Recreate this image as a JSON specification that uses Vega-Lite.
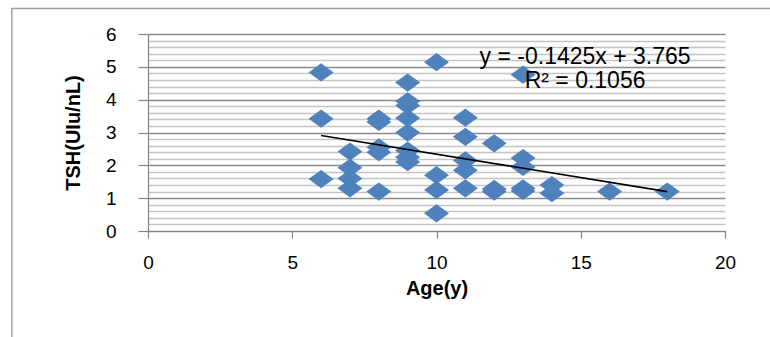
{
  "$schema": "https://vega.github.io/schema/vega-lite/v6.json",
  "width": 577,
  "height": 197,
  "autosize": {"type": "none"},
  "padding": {"left": 148, "top": 34, "right": 45, "bottom": 106},
  "background": "white",
  "config": {
    "view": {"stroke": null},
    "font": "Liberation Sans",
    "axisX": {
      "grid": false,
      "domainColor": "#868686",
      "domainWidth": 1.2,
      "tickColor": "#868686",
      "tickWidth": 1.2,
      "tickSize": 7,
      "labelFontSize": 19,
      "labelColor": "black",
      "labelPadding": 15,
      "labelFlush": false,
      "labelOverlap": false,
      "titleFontSize": 20,
      "titleFontWeight": "bold",
      "titleColor": "black",
      "titlePadding": 6
    },
    "axisY": {
      "grid": true,
      "gridWidth": 1.3,
      "domainColor": "#868686",
      "domainWidth": 1.2,
      "tickColor": "#868686",
      "tickWidth": 1.2,
      "tickSize": 10,
      "labelFontSize": 19,
      "labelColor": "black",
      "labelPadding": 22,
      "labelOverlap": false,
      "labelBound": false,
      "labelFlush": false,
      "titleFontSize": 20,
      "titleFontWeight": "bold",
      "titleColor": "black",
      "titlePadding": 22
    }
  },
  "datasets": {
    "points": [
      {"age": 6, "tsh": 4.83}, {"age": 6, "tsh": 3.42}, {"age": 6, "tsh": 1.58},
      {"age": 7, "tsh": 2.42}, {"age": 7, "tsh": 1.93}, {"age": 7, "tsh": 1.6}, {"age": 7, "tsh": 1.3},
      {"age": 8, "tsh": 3.42}, {"age": 8, "tsh": 3.32}, {"age": 8, "tsh": 2.55}, {"age": 8, "tsh": 2.4}, {"age": 8, "tsh": 1.2},
      {"age": 9, "tsh": 4.52}, {"age": 9, "tsh": 3.95}, {"age": 9, "tsh": 3.82}, {"age": 9, "tsh": 3.44}, {"age": 9, "tsh": 3.0}, {"age": 9, "tsh": 2.45}, {"age": 9, "tsh": 2.25}, {"age": 9, "tsh": 2.1},
      {"age": 10, "tsh": 5.14}, {"age": 10, "tsh": 1.7}, {"age": 10, "tsh": 1.25}, {"age": 10, "tsh": 0.54},
      {"age": 11, "tsh": 3.45}, {"age": 11, "tsh": 2.87}, {"age": 11, "tsh": 2.15}, {"age": 11, "tsh": 1.85}, {"age": 11, "tsh": 1.3},
      {"age": 12, "tsh": 2.67}, {"age": 12, "tsh": 1.28}, {"age": 12, "tsh": 1.2},
      {"age": 13, "tsh": 4.76}, {"age": 13, "tsh": 2.22}, {"age": 13, "tsh": 1.95}, {"age": 13, "tsh": 1.3}, {"age": 13, "tsh": 1.22},
      {"age": 14, "tsh": 1.4}, {"age": 14, "tsh": 1.15},
      {"age": 16, "tsh": 1.2},
      {"age": 18, "tsh": 1.2}
    ],
    "trend": [
      {"age": 6, "tsh": 2.91},
      {"age": 18, "tsh": 1.2}
    ],
    "equation": [
      {"lines": ["y = -0.1425x + 3.765", "R² = 0.1056"]}
    ]
  },
  "layer": [
    {
      "data": {"name": "points"},
      "mark": {"type": "point", "shape": "M-1,0L0,-0.73L1,0L0,0.73Z", "filled": true, "size": 625, "color": "#4F81BD", "opacity": 1, "strokeWidth": 0},
      "encoding": {
        "x": {
          "field": "age", "type": "quantitative",
          "scale": {"domain": [0, 20], "nice": false, "zero": false},
          "axis": {"title": "Age(y)", "values": [0, 5, 10, 15, 20]}
        },
        "y": {
          "field": "tsh", "type": "quantitative",
          "scale": {"domain": [0, 6], "nice": false},
          "axis": {
            "title": "TSH(UIu/nL)",
            "values": [0, 0.2, 0.4, 0.6, 0.8, 1, 1.2, 1.4, 1.6, 1.8, 2, 2.2, 2.4, 2.6, 2.8, 3, 3.2, 3.4, 3.6, 3.8, 4, 4.2, 4.4, 4.6, 4.8, 5, 5.2, 5.4, 5.6, 5.8, 6],
            "labelExpr": "datum.value % 1 === 0 ? '' + datum.value : ''",
            "gridColor": {"condition": {"test": "datum.value % 1 === 0", "value": "#8a8a8a"}, "value": "#c4c4c4"},
            "tickOpacity": {"condition": {"test": "datum.value % 1 === 0", "value": 1}, "value": 0}
          }
        }
      }
    },
    {
      "data": {"name": "trend"},
      "mark": {"type": "line", "color": "black", "strokeWidth": 1.6},
      "encoding": {
        "x": {
          "field": "age", "type": "quantitative",
          "scale": {"domain": [0, 20], "nice": false, "zero": false},
          "axis": {"title": "Age(y)", "values": [0, 5, 10, 15, 20]}
        },
        "y": {
          "field": "tsh", "type": "quantitative",
          "scale": {"domain": [0, 6], "nice": false},
          "axis": {
            "title": "TSH(UIu/nL)",
            "values": [0, 0.2, 0.4, 0.6, 0.8, 1, 1.2, 1.4, 1.6, 1.8, 2, 2.2, 2.4, 2.6, 2.8, 3, 3.2, 3.4, 3.6, 3.8, 4, 4.2, 4.4, 4.6, 4.8, 5, 5.2, 5.4, 5.6, 5.8, 6],
            "labelExpr": "datum.value % 1 === 0 ? '' + datum.value : ''",
            "gridColor": {"condition": {"test": "datum.value % 1 === 0", "value": "#8a8a8a"}, "value": "#c4c4c4"},
            "tickOpacity": {"condition": {"test": "datum.value % 1 === 0", "value": 1}, "value": 0}
          }
        }
      }
    },
    {
      "data": {"name": "equation"},
      "mark": {"type": "text", "align": "center", "baseline": "alphabetic", "fontSize": 23, "lineHeight": 24, "color": "black"},
      "encoding": {
        "x": {
          "datum": 15.15, "type": "quantitative",
          "scale": {"domain": [0, 20], "nice": false, "zero": false},
          "axis": {"title": "Age(y)", "values": [0, 5, 10, 15, 20]}
        },
        "y": {
          "datum": 5.08, "type": "quantitative",
          "scale": {"domain": [0, 6], "nice": false},
          "axis": {
            "title": "TSH(UIu/nL)",
            "values": [0, 0.2, 0.4, 0.6, 0.8, 1, 1.2, 1.4, 1.6, 1.8, 2, 2.2, 2.4, 2.6, 2.8, 3, 3.2, 3.4, 3.6, 3.8, 4, 4.2, 4.4, 4.6, 4.8, 5, 5.2, 5.4, 5.6, 5.8, 6],
            "labelExpr": "datum.value % 1 === 0 ? '' + datum.value : ''",
            "gridColor": {"condition": {"test": "datum.value % 1 === 0", "value": "#8a8a8a"}, "value": "#c4c4c4"},
            "tickOpacity": {"condition": {"test": "datum.value % 1 === 0", "value": 1}, "value": 0}
          }
        },
        "text": {"field": "lines"}
      }
    },
    {
      "data": {"values": [{}]},
      "mark": {"type": "rect", "filled": false, "fillOpacity": 0, "stroke": "#a0a0a0", "strokeWidth": 1.5},
      "encoding": {
        "x": {
          "datum": -4.72, "type": "quantitative",
          "scale": {"domain": [0, 20], "nice": false, "zero": false},
          "axis": {"title": "Age(y)", "values": [0, 5, 10, 15, 20]}
        },
        "x2": {"datum": 30},
        "y": {
          "datum": 6.78, "type": "quantitative",
          "scale": {"domain": [0, 6], "nice": false},
          "axis": {
            "title": "TSH(UIu/nL)",
            "values": [0, 0.2, 0.4, 0.6, 0.8, 1, 1.2, 1.4, 1.6, 1.8, 2, 2.2, 2.4, 2.6, 2.8, 3, 3.2, 3.4, 3.6, 3.8, 4, 4.2, 4.4, 4.6, 4.8, 5, 5.2, 5.4, 5.6, 5.8, 6],
            "labelExpr": "datum.value % 1 === 0 ? '' + datum.value : ''",
            "gridColor": {"condition": {"test": "datum.value % 1 === 0", "value": "#8a8a8a"}, "value": "#c4c4c4"},
            "tickOpacity": {"condition": {"test": "datum.value % 1 === 0", "value": 1}, "value": 0}
          }
        },
        "y2": {"datum": -5}
      }
    }
  ]
}
